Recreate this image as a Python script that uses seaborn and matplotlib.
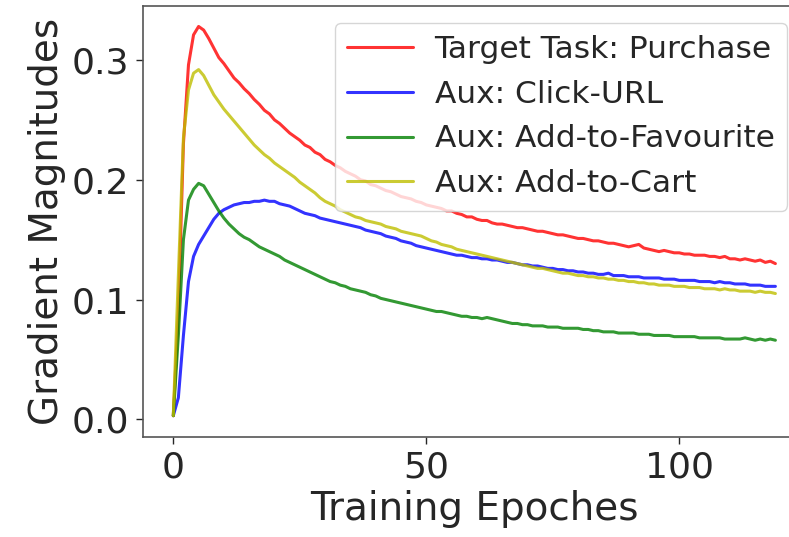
import numpy as np
import pandas as pd
import matplotlib
matplotlib.use("Agg")
import matplotlib.pyplot as plt
import seaborn as sns

epochs = list(range(120))

purchase = [
    0.003, 0.090, 0.230, 0.296, 0.321, 0.328, 0.325, 0.318, 0.310, 0.302,
    0.297, 0.291, 0.285, 0.281, 0.276, 0.272, 0.267, 0.263, 0.258, 0.255,
    0.250, 0.247, 0.243, 0.239, 0.236, 0.233, 0.229, 0.227, 0.223, 0.221,
    0.217, 0.215, 0.212, 0.210, 0.207, 0.205, 0.203, 0.200, 0.199, 0.196,
    0.195, 0.193, 0.191, 0.190, 0.188, 0.186, 0.185, 0.184, 0.182, 0.181,
    0.179, 0.178, 0.177, 0.176, 0.174, 0.174, 0.172, 0.171, 0.169, 0.169,
    0.167, 0.166, 0.166, 0.164, 0.163, 0.163, 0.162, 0.161, 0.160, 0.160,
    0.159, 0.158, 0.157, 0.157, 0.156, 0.155, 0.154, 0.154, 0.153, 0.152,
    0.151, 0.151, 0.150, 0.149, 0.149, 0.148, 0.147, 0.147, 0.146, 0.145,
    0.144, 0.145, 0.146, 0.143, 0.142, 0.141, 0.140, 0.141, 0.140, 0.139,
    0.139, 0.138, 0.138, 0.137, 0.137, 0.137, 0.136, 0.136, 0.135, 0.136,
    0.134, 0.134, 0.133, 0.134, 0.133, 0.132, 0.133, 0.131, 0.132, 0.130,
]

click_url = [
    0.003, 0.018, 0.070, 0.115, 0.136, 0.146, 0.153, 0.160, 0.167, 0.172,
    0.175, 0.177, 0.179, 0.180, 0.181, 0.181, 0.182, 0.182, 0.183, 0.182,
    0.182, 0.180, 0.179, 0.178, 0.176, 0.174, 0.172, 0.171, 0.170, 0.168,
    0.167, 0.166, 0.165, 0.164, 0.163, 0.162, 0.161, 0.160, 0.158, 0.157,
    0.156, 0.155, 0.153, 0.152, 0.151, 0.149, 0.148, 0.147, 0.145, 0.144,
    0.143, 0.142, 0.141, 0.140, 0.139, 0.138, 0.137, 0.137, 0.136, 0.135,
    0.135, 0.134, 0.134, 0.133, 0.133, 0.132, 0.131, 0.131, 0.130, 0.129,
    0.129, 0.128, 0.128, 0.127, 0.126, 0.126, 0.125, 0.125, 0.124, 0.124,
    0.123, 0.123, 0.122, 0.122, 0.121, 0.121, 0.122, 0.120, 0.120, 0.120,
    0.119, 0.119, 0.119, 0.118, 0.118, 0.118, 0.118, 0.117, 0.117, 0.117,
    0.116, 0.116, 0.116, 0.116, 0.115, 0.115, 0.115, 0.114, 0.115, 0.114,
    0.114, 0.113, 0.113, 0.113, 0.112, 0.112, 0.112, 0.111, 0.111, 0.111,
]

add_to_favourite = [
    0.003, 0.070, 0.150, 0.183, 0.192, 0.197, 0.195, 0.188, 0.181, 0.174,
    0.168, 0.163, 0.159, 0.155, 0.152, 0.150, 0.147, 0.144, 0.142, 0.140,
    0.138, 0.136, 0.133, 0.131, 0.129, 0.127, 0.125, 0.123, 0.121, 0.119,
    0.117, 0.115, 0.114, 0.112, 0.111, 0.109, 0.108, 0.107, 0.106, 0.104,
    0.103, 0.101, 0.100, 0.099, 0.098, 0.097, 0.096, 0.095, 0.094, 0.093,
    0.092, 0.091, 0.090, 0.090, 0.089, 0.088, 0.087, 0.086, 0.086, 0.085,
    0.085, 0.084, 0.085, 0.084, 0.083, 0.082, 0.081, 0.080, 0.080, 0.079,
    0.079, 0.078, 0.078, 0.078, 0.077, 0.077, 0.077, 0.076, 0.076, 0.076,
    0.076, 0.075, 0.075, 0.074, 0.074, 0.073, 0.073, 0.073, 0.072, 0.072,
    0.072, 0.072, 0.071, 0.071, 0.071, 0.070, 0.070, 0.070, 0.070, 0.069,
    0.069, 0.069, 0.069, 0.069, 0.068, 0.068, 0.068, 0.068, 0.068, 0.067,
    0.067, 0.067, 0.067, 0.068, 0.067, 0.066, 0.067, 0.066, 0.067, 0.066,
]

add_to_cart = [
    0.003, 0.120, 0.235, 0.275, 0.289, 0.292, 0.287, 0.279, 0.271, 0.265,
    0.259, 0.254, 0.249, 0.244, 0.239, 0.234, 0.229, 0.225, 0.221, 0.218,
    0.214, 0.211, 0.208, 0.205, 0.202, 0.198, 0.195, 0.192, 0.189, 0.185,
    0.182, 0.180, 0.178, 0.175, 0.173, 0.171, 0.169, 0.168, 0.166, 0.165,
    0.164, 0.163, 0.161, 0.160, 0.159, 0.157, 0.156, 0.155, 0.154, 0.153,
    0.151, 0.149, 0.148, 0.146, 0.145, 0.144, 0.142, 0.141, 0.140, 0.139,
    0.138, 0.137, 0.136, 0.135, 0.134, 0.133, 0.132, 0.131, 0.130, 0.129,
    0.128, 0.127, 0.126, 0.126, 0.125, 0.124, 0.123, 0.122, 0.122, 0.121,
    0.120, 0.120, 0.119, 0.119, 0.118, 0.118, 0.117, 0.117, 0.116, 0.116,
    0.115, 0.115, 0.114, 0.114, 0.113, 0.113, 0.112, 0.112, 0.112, 0.111,
    0.111, 0.111, 0.110, 0.110, 0.110, 0.109, 0.109, 0.109, 0.108, 0.109,
    0.108, 0.108, 0.107, 0.107, 0.107, 0.106, 0.107, 0.106, 0.106, 0.105,
]

series_names = [
    "Target Task: Purchase",
    "Aux: Click-URL",
    "Aux: Add-to-Favourite",
    "Aux: Add-to-Cart",
]
series_values = [purchase, click_url, add_to_favourite, add_to_cart]
series_colors = ["#ff0000", "#0000ff", "#008000", "#bfbf00"]

frames = [
    pd.DataFrame({"epoch": epochs, "grad": vals, "task": name})
    for name, vals in zip(series_names, series_values)
]
df = pd.concat(frames, ignore_index=True)

sns.set_theme(style="ticks")
plt.rcParams["font.family"] = ["DejaVu Sans"]

W, H = 789, 537
fig = plt.figure(figsize=(W / 100, H / 100), dpi=100)
ax = fig.add_axes([143.2 / W, 1 - 437 / H, (805.5 - 143.2) / W, (437 - 6) / H])

sns.lineplot(
    data=df, x="epoch", y="grad", hue="task", hue_order=series_names,
    palette=dict(zip(series_names, series_colors)), linewidth=2.2,
    alpha=0.8, ax=ax,
)

ax.set_xlim(-5.95, 124.95)
ax.set_ylim(-0.0148, 0.3451)
ax.set_xticks([0, 50, 100])
ax.set_yticks([0.0, 0.1, 0.2, 0.3])
ax.set_yticklabels(["0.0", "0.1", "0.2", "0.3"])
ax.tick_params(labelsize=26, length=5, width=1, colors="#262626", pad=5)
ax.set_xlabel("Training Epoches", fontsize=28, color="#262626")
ax.set_ylabel("Gradient Magnitudes", fontsize=28, color="#262626")
for s in ax.spines.values():
    s.set_color("#555555")
    s.set_linewidth(1.2)

handles, labels = ax.get_legend_handles_labels()
ax.legend(
    handles, labels, loc="upper right",
    bbox_to_anchor=(787 / W, 1 - 22.7 / H), bbox_transform=fig.transFigure,
    borderaxespad=0, fontsize=22.5, framealpha=0.8, handlelength=2.1,
    handletextpad=0.7, labelspacing=0.5, borderpad=0.4,
)

fig.savefig("out.png", dpi=100)
